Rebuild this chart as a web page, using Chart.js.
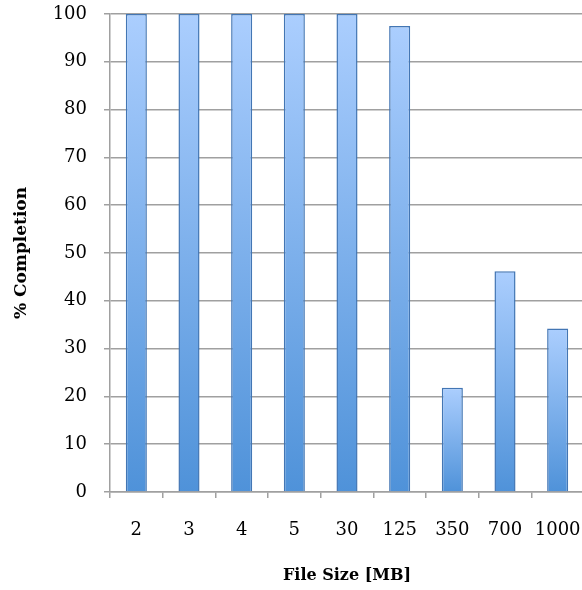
<!DOCTYPE html>
<html>
<head>
<meta charset="utf-8">
<script src="https://cdn.jsdelivr.net/npm/chart.js@4/dist/chart.umd.min.js"></script>
<style>
  html, body { margin: 0; padding: 0; background: #fff; overflow: hidden; }
  #wrap { width: 584px; height: 590px; position: relative; }
</style>
</head>
<body>
<div id="wrap"><canvas id="c"></canvas></div>
<script>
// File sizes tested and the share of transfers that completed
const fileSizes = ['2', '3', '4', '5', '30', '125', '350', '700', '1000'];
const completion = [100, 100, 100, 100, 100, 97.5, 21.8, 46.2, 34.2];
const yTicks = [0, 10, 20, 30, 40, 50, 60, 70, 80, 90, 100];

const FONT = "'DejaVu Serif', serif";
const GRID = '#a0a0a0';

// Each bar gets its own vertical gradient, light at the top and deeper at the base
function barGradient(ctx) {
  const chart = ctx.chart;
  if (!chart.chartArea || ctx.type !== 'data') return '#7fb2ec';
  const y = chart.scales.y;
  const top = y.getPixelForValue(ctx.raw);
  const base = y.getPixelForValue(0);
  const g = chart.ctx.createLinearGradient(0, top, 0, base);
  g.addColorStop(0, '#abcefe');
  g.addColorStop(1, '#4f92d9');
  return g;
}

new Chart(document.getElementById('c'), {
  type: 'bar',
  data: {
    labels: fileSizes,
    datasets: [{
      data: completion,
      backgroundColor: barGradient,
      borderColor: '#4376b4',
      borderWidth: 1.5,
      borderSkipped: 'bottom',
      categoryPercentage: 1,
      barPercentage: 0.4
    }]
  },
  options: {
    responsive: true,
    maintainAspectRatio: false,
    animation: false,
    layout: { padding: { top: 14, left: 0, right: 0, bottom: 0 } },
    plugins: { legend: { display: false }, tooltip: { enabled: false } },
    scales: {
      x: {
        afterFit: s => { s.height = 98; s.paddingLeft = 0; s.paddingRight = 0; },
        grid: {
          offset: true,
          drawOnChartArea: false,
          drawTicks: true,
          tickLength: 6,
          color: GRID,
          lineWidth: 1.5
        },
        border: { color: GRID, width: 1.5 },
        ticks: { color: '#000', font: { family: FONT, size: 18 }, padding: 22, maxRotation: 0 },
        title: {
          display: true,
          text: 'File Size [MB]',
          color: '#000',
          font: { family: FONT, size: 16, weight: 'bold' },
          padding: { top: 0, bottom: 5 }
        }
      },
      y: {
        min: 0,
        max: 100,
        afterFit: s => { s.width = 110; s.paddingTop = 0; s.paddingBottom = 0; },
        afterBuildTicks: s => { s.ticks = yTicks.map(v => ({ value: v })); },
        grid: {
          color: GRID,
          lineWidth: 1.5,
          drawTicks: true,
          tickLength: 6
        },
        border: { color: GRID, width: 1.5 },
        ticks: { color: '#000', font: { family: FONT, size: 18 }, padding: 17 },
        title: {
          display: true,
          text: '% Completion',
          color: '#000',
          font: { family: FONT, size: 17, weight: 'bold' },
          padding: { top: 11, bottom: 0 }
        }
      }
    }
  }
});
</script>
</body>
</html>
